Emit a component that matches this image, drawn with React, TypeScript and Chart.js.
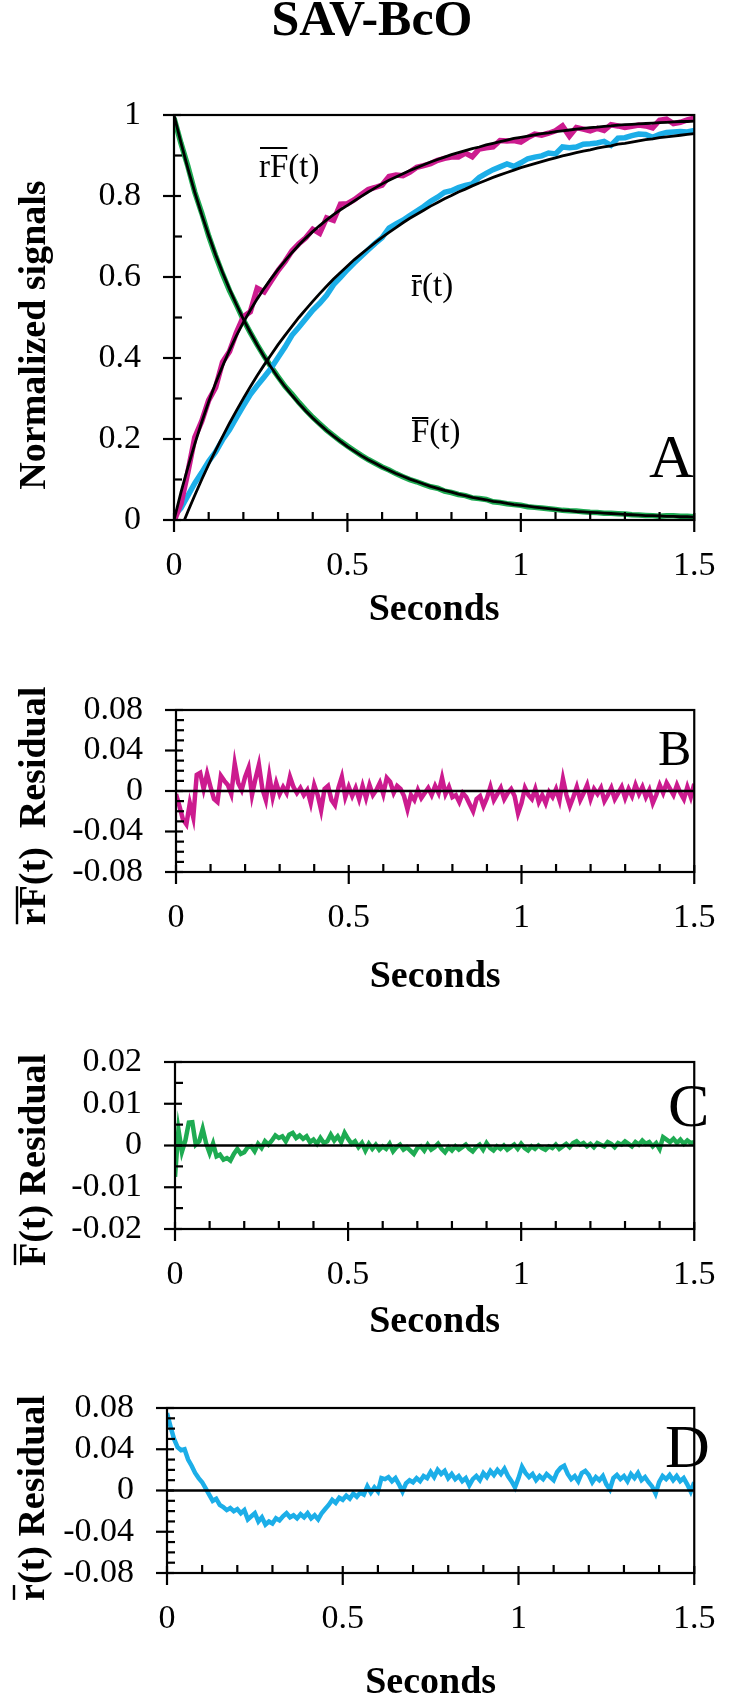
import React, { useEffect, useRef } from "react";
import { Chart, registerables } from "chart.js";
Chart.register(...registerables);

const FONT = "'Liberation Serif', 'Times New Roman', Times, serif";

// sampling steps of the arrays below (seconds)
const FIT_STEP = 0.02;
const RES_STEP = 0.01;

// fitted curves, t = 0 .. 1.5 every 0.02 s
const FIT_RF = [
  0.000, 0.068, 0.130, 0.188, 0.242, 0.292, 0.338, 0.380, 0.419, 0.455,
  0.488, 0.518, 0.546, 0.572, 0.596, 0.619, 0.640, 0.660, 0.679, 0.696,
  0.712, 0.727, 0.741, 0.754, 0.766, 0.777, 0.788, 0.799, 0.810, 0.820,
  0.830, 0.839, 0.847, 0.855, 0.863, 0.870, 0.877, 0.884, 0.890, 0.896,
  0.902, 0.907, 0.912, 0.917, 0.921, 0.926, 0.930, 0.934, 0.938, 0.942,
  0.945, 0.948, 0.951, 0.954, 0.956, 0.959, 0.961, 0.963, 0.965, 0.967,
  0.969, 0.970, 0.972, 0.973, 0.975, 0.976, 0.977, 0.978, 0.979, 0.980,
  0.981, 0.982, 0.983, 0.984, 0.984, 0.985,
];
const FIT_R = [
  -0.065, -0.021, 0.021, 0.061, 0.100, 0.137, 0.172, 0.206, 0.239, 0.270,
  0.300, 0.329, 0.357, 0.383, 0.408, 0.433, 0.456, 0.478, 0.500, 0.520,
  0.540, 0.559, 0.577, 0.595, 0.611, 0.627, 0.643, 0.657, 0.671, 0.685,
  0.698, 0.710, 0.722, 0.734, 0.745, 0.755, 0.765, 0.775, 0.784, 0.793,
  0.801, 0.810, 0.817, 0.825, 0.832, 0.839, 0.846, 0.852, 0.858, 0.864,
  0.870, 0.875, 0.880, 0.885, 0.890, 0.894, 0.899, 0.903, 0.907, 0.911,
  0.914, 0.918, 0.921, 0.924, 0.928, 0.930, 0.933, 0.936, 0.939, 0.941,
  0.944, 0.946, 0.948, 0.950, 0.952, 0.954,
];
const FIT_F = [
  1.000, 0.932, 0.868, 0.809, 0.754, 0.703, 0.655, 0.611, 0.570, 0.532,
  0.496, 0.463, 0.432, 0.403, 0.377, 0.352, 0.329, 0.308, 0.288, 0.269,
  0.252, 0.236, 0.221, 0.207, 0.194, 0.181, 0.170, 0.159, 0.149, 0.140,
  0.131, 0.123, 0.115, 0.108, 0.101, 0.095, 0.089, 0.083, 0.078, 0.073,
  0.069, 0.064, 0.060, 0.056, 0.053, 0.050, 0.046, 0.044, 0.041, 0.038,
  0.036, 0.034, 0.032, 0.030, 0.028, 0.026, 0.024, 0.023, 0.021, 0.020,
  0.019, 0.018, 0.017, 0.016, 0.015, 0.014, 0.013, 0.012, 0.011, 0.011,
  0.010, 0.009, 0.009, 0.008, 0.008, 0.007,
];

// residuals, t = 0 .. 1.5 every 0.01 s
const RES_RF = [
  -0.003, -0.015, -0.028, -0.033, -0.012, -0.026, 0.016, 0.018, 0.002, 0.017,
  0.004, -0.008, -0.011, 0.015, 0.010, 0.006, -0.003, 0.027, 0.008, 0.001,
  0.014, 0.023, -0.004, 0.012, 0.026, 0.002, -0.009, 0.015, -0.006, 0.008,
  -0.003, 0.004, -0.002, 0.014, 0.004, -0.002, 0.003, -0.004, 0.001, -0.012,
  0.006, -0.004, -0.019, 0.002, 0.005, -0.009, -0.014, 0.003, 0.014, -0.006,
  0.004, -0.005, 0.003, -0.008, 0.005, -0.007, 0.006, -0.004, 0.001, 0.008,
  -0.003, 0.013, 0.009, -0.002, 0.005, 0.002, -0.005, -0.018, -0.004, -0.009,
  0.001, -0.007, -0.002, 0.003, -0.004, 0.005, -0.002, 0.013, -0.003, 0.004,
  -0.006, -0.004, -0.011, -0.002, -0.006, -0.013, -0.020, -0.008, -0.005, -0.015,
  -0.007, 0.004, -0.009, -0.003, 0.003, -0.008, -0.002, 0.002, -0.005, -0.022,
  -0.012, 0.003, -0.004, -0.008, 0.002, -0.011, -0.004, -0.012, -0.001, -0.006,
  0.002, -0.009, 0.012, -0.004, -0.015, -0.006, 0.004, -0.009, -0.002, 0.006,
  -0.008, 0.002, -0.003, 0.003, -0.010, -0.004, 0.003, -0.008, -0.002, 0.004,
  -0.007, 0.002, -0.005, 0.006, -0.003, 0.004, -0.006, 0.001, -0.012, -0.004,
  0.006, -0.002, 0.008, 0.002, -0.004, 0.006, -0.002, -0.008, 0.004, -0.006,
  0.007,
];
const RES_F = [
  -0.0075, 0.0038, -0.0015, 0.0012, 0.0055, 0.0056, 0.0002, 0.0010, 0.0040, 0.0005,
  -0.0018, 0.0005, -0.0026, -0.0022, -0.0034, -0.0030, -0.0036, -0.0020, -0.0008, -0.0020,
  -0.0016, -0.0004, -0.0002, -0.0014, 0.0004, -0.0006, 0.0010, 0.0002, 0.0012, 0.0024,
  0.0018, 0.0022, 0.0010, 0.0026, 0.0030, 0.0018, 0.0024, 0.0016, 0.0022, 0.0008,
  0.0014, 0.0004, 0.0018, 0.0006, 0.0010, 0.0026, 0.0012, 0.0022, 0.0008, 0.0030,
  0.0016, 0.0004, 0.0010, -0.0004, 0.0006, -0.0012, 0.0004, -0.0008, 0.0002, -0.0010,
  -0.0002, -0.0008, 0.0004, -0.0014, -0.0004, 0.0002, -0.0010, -0.0004, -0.0012, -0.0020,
  -0.0006, -0.0002, -0.0012, 0.0002, -0.0010, -0.0004, 0.0004, -0.0008, -0.0016, -0.0004,
  -0.0012, -0.0002, -0.0010, -0.0004, 0.0002, -0.0008, -0.0014, -0.0004, 0.0002, -0.0010,
  0.0006, -0.0006, -0.0012, -0.0002, -0.0008, 0.0000, -0.0010, -0.0004, 0.0002, -0.0008,
  0.0004, -0.0006, -0.0012, -0.0002, -0.0008, 0.0000, -0.0006, -0.0010, -0.0002, -0.0006,
  0.0002, -0.0008, -0.0002, 0.0004, -0.0004, 0.0006, 0.0010, 0.0002, 0.0006, -0.0002,
  0.0004, -0.0004, 0.0006, 0.0002, -0.0002, 0.0008, 0.0004, -0.0004, 0.0006, 0.0002,
  0.0010, 0.0004, -0.0002, 0.0008, 0.0002, 0.0012, 0.0004, 0.0008, -0.0002, 0.0006,
  -0.0008, 0.0020, 0.0014, 0.0008, 0.0016, 0.0006, 0.0014, 0.0004, 0.0012, 0.0006,
  0.0008,
];
const RES_R = [
  0.075, 0.062, 0.050, 0.042, 0.039, 0.040, 0.030, 0.024, 0.017, 0.012,
  0.008, 0.002, -0.004, -0.010, -0.008, -0.014, -0.016, -0.019, -0.017, -0.020,
  -0.018, -0.022, -0.019, -0.028, -0.025, -0.022, -0.030, -0.026, -0.033, -0.030,
  -0.032, -0.027, -0.029, -0.025, -0.022, -0.026, -0.024, -0.027, -0.023, -0.026,
  -0.022, -0.027, -0.024, -0.028, -0.022, -0.018, -0.014, -0.009, -0.012, -0.007,
  -0.009, -0.005, -0.008, -0.003, -0.006, -0.002, -0.004, 0.004, -0.002, 0.003,
  -0.001, 0.012, 0.011, 0.013, 0.009, 0.012, 0.006, -0.001, 0.007, 0.010,
  0.008, 0.012, 0.009, 0.014, 0.012, 0.018, 0.013, 0.020, 0.016, 0.019,
  0.012, 0.016, 0.011, 0.014, 0.009, 0.012, 0.005, 0.011, 0.014, 0.010,
  0.017, 0.013, 0.019, 0.015, 0.020, 0.016, 0.021, 0.014, 0.009, 0.003,
  0.012, 0.023, 0.017, 0.013, 0.016, 0.010, 0.014, 0.011, 0.016, 0.013,
  0.010, 0.018, 0.022, 0.024, 0.016, 0.011, 0.014, 0.009, 0.017, 0.019,
  0.015, 0.008, 0.013, 0.010, 0.014, 0.006, 0.001, 0.012, 0.015, 0.011,
  0.014, 0.009, 0.016, 0.012, 0.017, 0.010, 0.013, 0.008, 0.004, -0.003,
  0.008, 0.014, 0.011, 0.015, 0.010, 0.014, 0.009, 0.012, 0.006, -0.001,
  0.008,
];

// ticks
const X_TICKS = [0, 0.5, 1, 1.5];
const X_TICK_LABELS = ["0", "0.5", "1", "1.5"];
const Y_TICKS_A = [0, 0.2, 0.4, 0.6, 0.8, 1];
const Y_TICK_LABELS_A = ["0", "0.2", "0.4", "0.6", "0.8", "1"];
const Y_TICKS_BD = [-0.08, -0.04, 0, 0.04, 0.08];
const Y_TICK_LABELS_BD = ["-0.08", "-0.04", "0", "0.04", "0.08"];
const Y_TICKS_C = [-0.02, -0.01, 0, 0.01, 0.02];
const Y_TICK_LABELS_C = ["-0.02", "-0.01", "0", "0.01", "0.02"];

const MAGENTA = "#cc1b8f";
const CYAN = "#1caee8";
const GREEN = "#1eab52";

const fitPts = (arr: number[]) => arr.map((v, i) => ({ x: i * FIT_STEP, y: v }));
const resPts = (arr: number[]) => arr.map((v, i) => ({ x: i * RES_STEP, y: v }));
const dataPts = (fit: number[], res: number[]) =>
  fit.map((v, i) => ({ x: i * FIT_STEP, y: v + res[i * 2] }));

interface TextItem {
  text: string;
  x: number;
  y: number;
  size: number;
  bold?: boolean;
  align?: "left" | "center";
  rotate?: boolean;
  over?: [number, number];
  overAt?: number;
}

function drawText(ctx: CanvasRenderingContext2D, t: TextItem, offY: number) {
  ctx.save();
  ctx.fillStyle = "#000";
  ctx.strokeStyle = "#000";
  ctx.font = `${t.bold ? "bold " : ""}${t.size}px ${FONT}`;
  ctx.textBaseline = "alphabetic";
  ctx.textAlign = "left";
  const w = ctx.measureText(t.text).width;
  if (t.rotate) {
    ctx.translate(t.x, t.y - offY);
    ctx.rotate(-Math.PI / 2);
    const x0 = -w / 2;
    ctx.fillText(t.text, x0, 0);
    if (t.over) {
      const a = ctx.measureText(t.text.slice(0, t.over[0])).width;
      const b = ctx.measureText(t.text.slice(0, t.over[1])).width;
      ctx.lineWidth = 2.4;
      ctx.beginPath();
      ctx.moveTo(x0 + a + 1, -(t.overAt || 0));
      ctx.lineTo(x0 + b - 1, -(t.overAt || 0));
      ctx.stroke();
    }
  } else {
    const x0 = t.align === "center" ? t.x - w / 2 : t.x;
    ctx.fillText(t.text, x0, t.y - offY);
    if (t.over) {
      const a = ctx.measureText(t.text.slice(0, t.over[0])).width;
      const b = ctx.measureText(t.text.slice(0, t.over[1])).width;
      ctx.lineWidth = 2;
      ctx.beginPath();
      ctx.moveTo(x0 + a + 1, (t.overAt || 0) - offY);
      ctx.lineTo(x0 + b - 1, (t.overAt || 0) - offY);
      ctx.stroke();
    }
  }
  ctx.restore();
}

interface Panel {
  top: number;
  height: number;
  left: number;
  right: number;
  plotTop: number;
  plotBottom: number;
  yMin: number;
  yMax: number;
  yTicks: number[];
  yLabels: string[];
  yMinor: number;
  zero: boolean;
  titlePad: number;
  datasets: any[];
  texts: TextItem[];
}

const line = (ctx: CanvasRenderingContext2D, x1: number, y1: number, x2: number, y2: number) => {
  ctx.beginPath();
  ctx.moveTo(x1, y1);
  ctx.lineTo(x2, y2);
  ctx.stroke();
};

function makeDecor(p: Panel) {
  return {
    id: "decor",
    afterDatasetsDraw(chart: any) {
      const ctx: CanvasRenderingContext2D = chart.ctx;
      const { left, right, top, bottom } = chart.chartArea;
      const xs = chart.scales.x;
      const ys = chart.scales.y;
      ctx.save();
      ctx.strokeStyle = "#000";
      ctx.lineCap = "butt";
      if (p.zero) {
        ctx.lineWidth = 2.5;
        const y0 = ys.getPixelForValue(0);
        line(ctx, left, y0, right, y0);
      }
      ctx.lineWidth = 2.2;
      ctx.strokeRect(left, top, right - left, bottom - top);
      for (const v of p.yTicks) {
        const y = ys.getPixelForValue(v);
        line(ctx, left - 11, y, left + 7, y);
      }
      const n = Math.round((p.yMax - p.yMin) / p.yMinor);
      for (let i = 0; i <= n; i++) {
        const v = p.yMin + i * p.yMinor;
        if (p.yTicks.some((m) => Math.abs(m - v) < p.yMinor / 10)) continue;
        const y = ys.getPixelForValue(v);
        line(ctx, left, y, left + 8, y);
      }
      for (const v of X_TICKS) {
        const x = xs.getPixelForValue(v);
        line(ctx, x, bottom - 7, x, bottom + 12);
      }
      for (let k = 1; k < 15; k++) {
        if (k % 5 === 0) continue;
        const x = xs.getPixelForValue(k * 0.1);
        line(ctx, x, bottom - 8, x, bottom);
      }
      ctx.restore();
    },
    afterDraw(chart: any) {
      for (const t of p.texts) drawText(chart.ctx, t, p.top);
    },
  };
}

const dataLine = (pts: any[], color: string, width: number) => ({
  data: pts,
  borderColor: color,
  borderWidth: width,
  pointRadius: 0,
  tension: 0,
  order: 2,
});
const fitLine = (pts: any[]) => ({
  data: pts,
  borderColor: "#000",
  borderWidth: 2.8,
  pointRadius: 0,
  tension: 0,
  order: 1,
});

const PANELS: Panel[] = [
  {
    top: 0, height: 660, left: 174, right: 721, plotTop: 115, plotBottom: 520,
    yMin: 0, yMax: 1, yTicks: Y_TICKS_A, yLabels: Y_TICK_LABELS_A, yMinor: 0.1, zero: false,
    titlePad: 34.8,
    datasets: [
      dataLine(dataPts(FIT_RF, RES_RF), MAGENTA, 5.5),
      dataLine(dataPts(FIT_R, RES_R), CYAN, 5.5),
      dataLine(dataPts(FIT_F, RES_F), GREEN, 5.5),
      fitLine(fitPts(FIT_RF)),
      fitLine(fitPts(FIT_R)),
      fitLine(fitPts(FIT_F)),
    ],
    texts: [
      { text: "SAV-BcO", x: 372, y: 35, size: 50, bold: true, align: "center" },
      { text: "Normalized signals", x: 45, y: 335, size: 38, bold: true, rotate: true },
      { text: "rF(t)", x: 259, y: 177, size: 33, over: [0, 2], overAt: 148 },
      { text: "r(t)", x: 411, y: 296, size: 33, over: [0, 1], overAt: 276 },
      { text: "F(t)", x: 411, y: 442, size: 33, over: [0, 1], overAt: 418 },
      { text: "A", x: 649, y: 477, size: 62 },
    ],
  },
  {
    top: 660, height: 340, left: 176, right: 722, plotTop: 694, plotBottom: 872,
    yMin: -0.08, yMax: 0.08, yTicks: Y_TICKS_BD, yLabels: Y_TICK_LABELS_BD, yMinor: 0.01, zero: true,
    titlePad: 7.8,
    datasets: [dataLine(resPts(RES_RF), MAGENTA, 4.5)],
    texts: [
      { text: "rF(t)  Residual", x: 45, y: 806, size: 38, bold: true, rotate: true, over: [0, 2], overAt: 28 },
      { text: "B", x: 658, y: 765, size: 50 },
    ],
  },
  {
    top: 1000, height: 345, left: 175, right: 721, plotTop: 1062, plotBottom: 1229,
    yMin: -0.02, yMax: 0.02, yTicks: Y_TICKS_C, yLabels: Y_TICK_LABELS_C, yMinor: 0.005, zero: true,
    titlePad: 7.8,
    datasets: [dataLine(resPts(RES_F), GREEN, 4.5)],
    texts: [
      { text: "F(t) Residual", x: 45, y: 1160, size: 38, bold: true, rotate: true, over: [0, 1], overAt: 30 },
      { text: "C", x: 668, y: 1126, size: 62 },
    ],
  },
  {
    top: 1345, height: 354, left: 167, right: 722, plotTop: 1408, plotBottom: 1573,
    yMin: -0.08, yMax: 0.08, yTicks: Y_TICKS_BD, yLabels: Y_TICK_LABELS_BD, yMinor: 0.01, zero: true,
    titlePad: 0.8,
    datasets: [dataLine(resPts(RES_R), CYAN, 4.5)],
    texts: [
      { text: "r(t) Residual", x: 44, y: 1498, size: 38, bold: true, rotate: true, over: [0, 1], overAt: 30 },
      { text: "D", x: 665, y: 1467, size: 62 },
    ],
  },
];

function buildConfig(p: Panel): any {
  const tickFont = { family: FONT, size: 34, lineHeight: 1 };
  return {
    type: "line",
    data: { datasets: p.datasets },
    plugins: [makeDecor(p)],
    options: {
      animation: false,
      responsive: false,
      events: [],
      layout: {
        padding: { left: 0, right: 745 - p.right, top: p.plotTop - p.top, bottom: 0 },
      },
      plugins: { legend: { display: false }, tooltip: { enabled: false }, title: { display: false } },
      scales: {
        x: {
          type: "linear",
          min: 0,
          max: 1.5,
          grid: { display: false, drawTicks: false },
          border: { display: false },
          afterBuildTicks: (s: any) => {
            s.ticks = X_TICKS.map((v) => ({ value: v }));
          },
          afterFit: (s: any) => {
            s.height = p.top + p.height - p.plotBottom;
          },
          ticks: {
            autoSkip: false,
            maxRotation: 0,
            padding: 29.5,
            color: "#000",
            font: tickFont,
            callback: (_v: any, i: number) => X_TICK_LABELS[i],
          },
          title: {
            display: true,
            text: "Seconds",
            color: "#000",
            font: { family: FONT, size: 38, weight: "bold", lineHeight: 0.8 },
            padding: { top: 0, bottom: p.titlePad },
          },
        },
        y: {
          type: "linear",
          min: p.yMin,
          max: p.yMax,
          grid: { display: false, drawTicks: false },
          border: { display: false },
          afterBuildTicks: (s: any) => {
            s.ticks = p.yTicks.map((v) => ({ value: v }));
          },
          afterFit: (s: any) => {
            s.width = p.left;
          },
          ticks: {
            autoSkip: false,
            padding: 33,
            color: "#000",
            font: tickFont,
            callback: (_v: any, i: number) => p.yLabels[i],
          },
        },
      },
    },
  };
}

export default function App() {
  const refs = useRef<(HTMLCanvasElement | null)[]>([]);
  useEffect(() => {
    const charts = PANELS.map((p, i) => new Chart(refs.current[i] as HTMLCanvasElement, buildConfig(p)));
    return () => charts.forEach((c) => c.destroy());
  }, []);
  return (
    <div style={{ position: "absolute", left: 0, top: 0, width: 745, height: 1699, background: "#fff" }}>
      {PANELS.map((p, i) => (
        <canvas
          key={i}
          ref={(el) => {
            refs.current[i] = el;
          }}
          width={745}
          height={p.height}
          style={{ position: "absolute", left: 0, top: p.top, width: 745, height: p.height }}
        />
      ))}
    </div>
  );
}
